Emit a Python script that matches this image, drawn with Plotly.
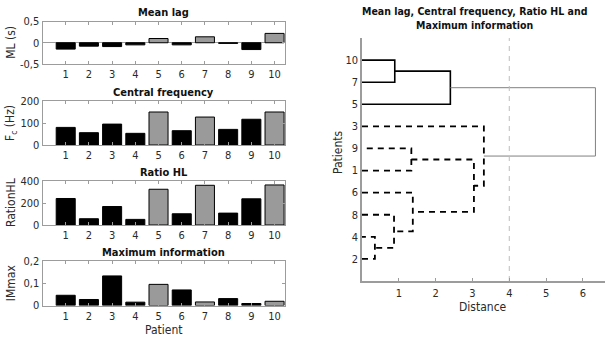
import plotly.graph_objects as go

# ---------------- data ----------------
patients = [1, 2, 3, 4, 5, 6, 7, 8, 9, 10]
mean_lag = [-0.15, -0.08, -0.09, -0.05, 0.10, -0.05, 0.14, -0.015, -0.16, 0.22]
central_freq = [80, 56, 95, 53, 150, 65, 127, 71, 117, 150]
ratio_hl = [241, 57, 168, 51, 325, 102, 361, 108, 238, 364]
max_info = [0.046, 0.027, 0.133, 0.015, 0.095, 0.070, 0.016, 0.031, 0.009, 0.019]
group_gray = [5, 7, 10]

ml_ticks = [-0.5, 0, 0.5]
ml_ticktext = ["-0,5", "0", "0,5"]
fc_ticks = [0, 100, 200]
hl_ticks = [0, 200, 400]
im_ticks = [0, 0.1, 0.2]
im_ticktext = ["0", "0,1", "0,2"]

# dendrogram (MATLAB-style linkage: leaves 1..10, clusters 11..)
leaf_order = [2, 4, 8, 6, 1, 9, 3, 5, 7, 10]   # bottom to top
z_left = [2, 8, 7, 1, 6, 5, 14, 3, 18]
z_right = [4, 11, 10, 9, 12, 13, 15, 17, 16]
z_dist = [0.35, 0.87, 0.89, 1.34, 1.38, 2.40, 3.04, 3.31, 6.34]
cutoff = 4
dist_ticks = [1, 2, 3, 4, 5, 6]

# ---------------- styles ----------------
FONT = "DejaVu Sans Condensed, Liberation Sans Narrow, Arial Narrow, sans-serif"
BLACK = "#000000"
GRAY = "#9a9a9a"
AXIS = "#9c9c9c"
TXT = "#2a2a2a"
W, H = 605, 337

def py(px):
    return 1 - px / H

def pxx(px):
    return px / W

fig = go.Figure()

left_dom = [pxx(42.5), pxx(285)]
panels = [
    ("Mean lag", "ML (s)", mean_lag, [-0.5, 0.5], ml_ticks, ml_ticktext, 21.5, 64),
    ("Central frequency", "F<sub>c</sub> (Hz)", central_freq, [0, 200], fc_ticks, [str(t) for t in fc_ticks], 101, 145),
    ("Ratio HL", "RationHL", ratio_hl, [0, 400], hl_ticks, [str(t) for t in hl_ticks], 181, 225),
    ("Maximum information", "IMmax", max_info, [0, 0.2], im_ticks, im_ticktext, 261, 305.5),
]

colors = [GRAY if p in group_gray else BLACK for p in patients]
annotations = []
for i, (title, ytitle, vals, yr, tv, tt, top, bot) in enumerate(panels):
    n = i + 1
    xa = "x" if n == 1 else f"x{n}"
    ya = "y" if n == 1 else f"y{n}"
    fig.add_trace(go.Bar(x=patients, y=vals, xaxis=xa, yaxis=ya,
                         marker=dict(color=colors, line=dict(color=BLACK, width=1)),
                         width=0.82, showlegend=False))
    xkey = "xaxis" if n == 1 else f"xaxis{n}"
    ykey = "yaxis" if n == 1 else f"yaxis{n}"
    fig.layout[xkey] = dict(domain=left_dom, anchor=ya, range=[0, 10.45],
                            tickvals=patients, ticktext=[str(p) for p in patients],
                            ticks="inside", ticklen=3, tickcolor=AXIS,
                            showline=True, linecolor=AXIS, linewidth=1, mirror="ticks",
                            showgrid=False, zeroline=False,
                            automargin=False,
                            tickfont=dict(family=FONT, size=11, color=TXT))
    fig.layout[ykey] = dict(domain=[py(bot), py(top)], anchor=xa, range=yr,
                            tickvals=tv, ticktext=tt,
                            ticks="inside", ticklen=3, tickcolor=AXIS,
                            showline=True, linecolor=AXIS, linewidth=1, mirror="ticks",
                            showgrid=False, zeroline=(n == 1), zerolinecolor=AXIS, zerolinewidth=1,
                            automargin=False,
                            tickfont=dict(family=FONT, size=11, color=TXT))
    annotations.append(dict(text=f"<b>{title}</b>", x=(left_dom[0] + left_dom[1]) / 2,
                            y=py(top - 0.5), xref="paper", yref="paper", showarrow=False,
                            xanchor="center", yanchor="bottom",
                            font=dict(family=FONT, size=11, color="#111")))
    annotations.append(dict(text=ytitle, x=pxx(11), y=py((top + bot) / 2), xref="paper",
                            yref="paper", showarrow=False, textangle=-90,
                            xanchor="center", yanchor="middle",
                            font=dict(family=FONT, size=12, color=TXT)))

annotations.append(dict(text="Patient", x=(left_dom[0] + left_dom[1]) / 2, y=py(330),
                        xref="paper", yref="paper", showarrow=False, xanchor="center",
                        yanchor="middle", font=dict(family=FONT, size=12, color=TXT)))

# ---------------- dendrogram ----------------
n_leaf = len(leaf_order)
node_y = {leaf: i + 1 for i, leaf in enumerate(leaf_order)}
node_x = {leaf: 0.0 for leaf in leaf_order}
members = {leaf: {leaf} for leaf in leaf_order}
for k, (a, b, d) in enumerate(zip(z_left, z_right, z_dist)):
    cid = n_leaf + 1 + k
    node_y[cid] = (node_y[a] + node_y[b]) / 2
    node_x[cid] = d
    members[cid] = members[a] | members[b]
    xs = [node_x[a], d, d, node_x[b]]
    ys = [node_y[a], node_y[a], node_y[b], node_y[b]]
    if d > cutoff:
        line = dict(color="#808080", width=1)
    elif members[cid] & set(group_gray):
        line = dict(color=BLACK, width=1.6)
    else:
        line = dict(color=BLACK, width=1.8, dash="6px,5px")
    fig.add_trace(go.Scatter(x=xs, y=ys, mode="lines", line=line, xaxis="x5", yaxis="y5",
                             showlegend=False, hoverinfo="skip"))

fig.add_trace(go.Scatter(x=[cutoff, cutoff], y=[0, 11], mode="lines",
                         line=dict(color="#bdbdbd", width=1, dash="5px,5px"),
                         xaxis="x5", yaxis="y5", showlegend=False, hoverinfo="skip"))

fig.layout["xaxis5"] = dict(domain=[pxx(362), 1.0], anchor="y5", range=[0, 6.6],
                            tickvals=dist_ticks, ticks="inside", ticklen=3, tickcolor=AXIS,
                            showline=True, linecolor=AXIS, linewidth=1.5, showgrid=False,
                            zeroline=False, tickfont=dict(family=FONT, size=11, color=TXT),
                            ticklabelstandoff=1, automargin=False)
fig.layout["yaxis5"] = dict(domain=[py(281), py(38)], anchor="x5", range=[0, 11],
                            tickvals=list(range(1, n_leaf + 1)),
                            ticktext=[str(l) for l in leaf_order],
                            ticks="", showline=True, linecolor=AXIS, linewidth=1.5,
                            showgrid=False, zeroline=False, automargin=False,
                            tickfont=dict(family=FONT, size=11, color=TXT))

annotations.append(dict(text="Distance", x=pxx(483), y=py(307), xref="paper", yref="paper",
                        showarrow=False, xanchor="center", yanchor="middle",
                        font=dict(family=FONT, size=12, color=TXT)))
annotations.append(dict(text="Patients", x=pxx(338), y=py(152), xref="paper", yref="paper",
                        showarrow=False, textangle=-90, xanchor="center", yanchor="middle",
                        font=dict(family=FONT, size=12, color=TXT)))
annotations.append(dict(text="<b>Mean lag, Central frequency, Ratio HL and<br>Maximum information</b>",
                        x=pxx(474), y=py(18.5), xref="paper", yref="paper", showarrow=False,
                        xanchor="center", yanchor="middle", align="center",
                        font=dict(family=FONT, size=10.5, color="#111")))

fig.update_layout(width=W, height=H, margin=dict(l=0, r=0, t=0, b=0, autoexpand=False),
                  paper_bgcolor="white", plot_bgcolor="white",
                  annotations=annotations)

fig.write_html("out.html")
